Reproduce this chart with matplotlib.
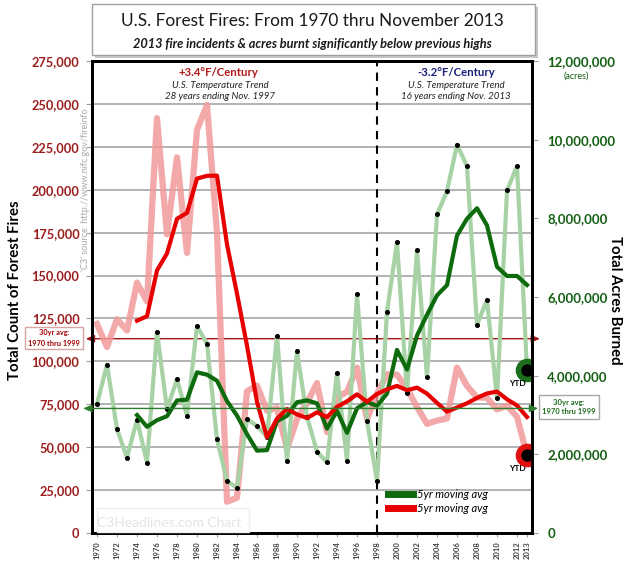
import matplotlib
matplotlib.use("Agg")
import matplotlib.pyplot as plt
from matplotlib.patches import FancyBboxPatch, Rectangle
from matplotlib.ticker import FuncFormatter

plt.rcParams['font.family'] = ['Lato', 'DejaVu Sans']

# ---- data (NIFC style yearly totals) ----
years = list(range(1970, 2014))
fires = [121736, 108398, 124554, 117957, 145868, 134872, 241699, 173998, 218842, 163196,
         234892, 249370, 174755, 18229, 20493, 82591, 85907, 71300, 72750, 48949,
         66481, 75754, 87394, 58810, 79107, 82234, 96363, 66196, 81043, 92487,
         92250, 84079, 73457, 63629, 65461, 66753, 96385, 85705, 78979, 78792,
         71971, 74126, 67774, 45400]
acres = [3278565, 4278472, 2641166, 1915273, 2879095, 1791327, 5109926, 3152644, 3910913, 2986826,
         5260825, 4814206, 2382036, 1323666, 1148409, 2896147, 2719162, 2447296, 5009290, 1827310,
         4621621, 2953578, 2069929, 1797574, 4073579, 1840546, 6065998, 2856959, 1329704, 5626093,
         7393493, 3570911, 7184712, 3960842, 8097880, 8689389, 9873745, 9328045, 5292468, 5921786,
         3422724, 8711367, 9326238, 4150000]

ma_years = list(range(1974, 2014))
fires_5yr = [123700, 126300, 153000, 162900, 183100, 186500, 206500, 208100, 208200, 168100,
             139500, 109100, 76400, 55700, 66600, 72300, 69100, 67000, 70300, 67500,
             73500, 76700, 80800, 76500, 81000, 83700, 85700, 83200, 84700, 81200,
             75800, 70700, 73100, 75600, 78700, 81300, 82400, 77900, 74300, 67600]
acres_5yr = [2998500, 2701100, 2867400, 2969700, 3368800, 3390300, 4084200, 4025100, 3871000, 3353500,
             2985800, 2512900, 2093900, 2106900, 2844100, 2979800, 3324900, 3371800, 3296300, 2654000,
             3103300, 2547000, 3169500, 3326900, 3233400, 3543900, 4654400, 4155400, 5021000, 5547200,
             6041600, 6300700, 7561300, 7990000, 8256300, 7821100, 6767800, 6535300, 6534900, 6306400]

fires_30yr_avg = 113200
acres_30yr_avg = 3167000

xtick_years = list(range(1970, 2013, 2)) + [2013]

W, H = 630, 567


def fx(px):
    return px / W


def fy(py):
    return 1 - py / H


fig = plt.figure(figsize=(6.3, 5.67), dpi=100)
ax = fig.add_axes([fx(92), fy(533), 440 / W, 472 / H])
ax2 = ax.twinx()
ax.set_xlim(1969.5, 2013.5)
ax.set_ylim(0, 275000)
ax2.set_ylim(0, 12e6)

# all series live on ax so their stacking order can be mixed; acres use ax2's scale
ax.plot(years, fires, color='#F29A9A', lw=4.5, alpha=0.85, zorder=2)
ax.plot(years, acres, transform=ax2.transData, color='#A6D2A6', lw=3, zorder=3,
        marker='o', ms=2.6, mfc='black', mec='black')
green_ma, = ax.plot(ma_years, acres_5yr, transform=ax2.transData, color='#0D6A0D', lw=3, zorder=4)
red_ma, = ax.plot(ma_years, fires_5yr, color='#E60000', lw=3, zorder=5)

# YTD markers
ax.plot([years[-1]], [fires[-1]], 'o', ms=13, mfc='black', mec='#E01010', mew=4, zorder=6)
ax.plot([years[-1]], [acres[-1]], 'o', transform=ax2.transData, ms=13, mfc='black',
        mec='#1C6E1C', mew=4, zorder=6)
ax.annotate('YTD', xy=(years[-1], fires[-1]), xytext=(-7, -10), textcoords='offset points',
            ha='center', va='center', fontsize=6, fontweight='bold')
ax2.annotate('YTD', xy=(years[-1], acres[-1]), xytext=(-7, -10), textcoords='offset points',
             ha='center', va='center', fontsize=6, fontweight='bold')

ax.axvline(1998, color='black', lw=1.5, ls=(0, (4, 3)), zorder=1.5)

# 30 yr averages with arrows out to the boxes
ax.annotate('', xy=(-0.014, fires_30yr_avg), xytext=(1.018, fires_30yr_avg),
            xycoords=('axes fraction', 'data'), textcoords=('axes fraction', 'data'),
            arrowprops=dict(arrowstyle='<|-|>,head_length=0.5,head_width=0.22', color='#A01414',
                            lw=1, shrinkA=0, shrinkB=0), annotation_clip=False, zorder=1.8)
ax2.annotate('', xy=(-0.02, acres_30yr_avg), xytext=(1.014, acres_30yr_avg),
             xycoords=('axes fraction', 'data'), textcoords=('axes fraction', 'data'),
             arrowprops=dict(arrowstyle='<|-|>,head_length=0.5,head_width=0.22', color='#2E7D2E',
                             lw=1, shrinkA=0, shrinkB=0), annotation_clip=False)

fig.text(fx(54), fy(338), '30yr avg:\n1970 thru 1999', ha='center', va='center', fontsize=5.3,
         color='#A00000', fontweight='bold', linespacing=1.5,
         bbox=dict(boxstyle='square,pad=0.35', fc='white', ec='#D9A3A3', lw=1))
fig.text(fx(569), fy(407), '30yr avg:\n1970 thru 1999', ha='center', va='center', fontsize=5.5,
         color='#1E6B1E', fontweight='bold', linespacing=1.5,
         bbox=dict(boxstyle='square,pad=0.4', fc='white', ec='#A8A8A8', lw=1))

# axes styling
ax.set_yticks(range(0, 275001, 25000))
ax2.set_yticks(range(0, 12000001, 2000000))
ax.yaxis.set_major_formatter(FuncFormatter(lambda v, p: f'{int(v):,}'))
ax2.yaxis.set_major_formatter(FuncFormatter(lambda v, p: f'{int(v):,}'))
ax.tick_params(axis='y', labelsize=9.2, labelcolor='#9C1C1C', length=4, color='#A0A0A0', pad=5)
ax2.tick_params(axis='y', labelsize=9.5, labelcolor='#135E13', length=4, color='#A0A0A0', pad=7)
for lab in ax.get_yticklabels() + ax2.get_yticklabels():
    lab.set_fontweight('bold')
ax.set_xticks(xtick_years)
ax.set_xticklabels([str(y) for y in xtick_years], rotation=90, fontsize=5.5,
                   fontweight='bold', color='#404040')
ax.tick_params(axis='x', length=3, color='#A0A0A0', pad=3)
ax.grid(axis='y', color='#A6A6A6', lw=1.2)
ax.set_axisbelow(True)
for a in (ax, ax2):
    for s in a.spines.values():
        s.set_linewidth(2)
        s.set_color('black')

leg = ax.legend([green_ma, red_ma], ['5yr moving avg', '5yr moving avg'], loc='upper left',
                bbox_to_anchor=(0.672, 0.094), frameon=False, prop=dict(style='italic', size=8),
                handlelength=2.25, handletextpad=0.35, labelspacing=0.3, borderpad=0,
                borderaxespad=0)
for ln in leg.get_lines():
    ln.set_linewidth(5)

# temperature trend notes
fig.text(fx(218), fy(73), '+3.4°F/Century', ha='center', va='center', fontsize=8.2,
         fontweight='bold', color='#B51A1A')
fig.text(fx(220), fy(86), 'U.S. Temperature Trend', ha='center', va='center', fontsize=7,
         style='italic', color='#222222')
fig.text(fx(220), fy(97), '28 years ending Nov. 1997', ha='center', va='center', fontsize=7,
         style='italic', color='#222222')
fig.text(fx(456), fy(73), '-3.2°F/Century', ha='center', va='center', fontsize=8.2,
         fontweight='bold', color='#1B1F7A')
fig.text(fx(456), fy(86), 'U.S. Temperature Trend', ha='center', va='center', fontsize=7,
         style='italic', color='#222222')
fig.text(fx(456), fy(97), '16 years ending Nov. 2013', ha='center', va='center', fontsize=7,
         style='italic', color='#222222')

# title box with a drop shadow
shadow = FancyBboxPatch((fx(95), fy(58)), 443 / W, 51 / H, boxstyle='square,pad=0',
                        transform=fig.transFigure, fc='#C8C8C8', ec='none')
box = FancyBboxPatch((fx(92), fy(55)), 443 / W, 51 / H, boxstyle='square,pad=0',
                     transform=fig.transFigure, fc='white', ec='#A0A0A0', lw=1)
fig.patches.extend([shadow, box])
fig.text(fx(312), fy(21), 'U.S. Forest Fires: From 1970 thru November 2013', ha='center',
         va='center', fontsize=12.4, color='#1A1A1A')
fig.text(fx(312), fy(44), '2013 fire incidents & acres burnt significantly below previous highs',
         ha='center', va='center', fontsize=9.2, fontweight='bold', style='italic', color='#1A1A1A')

fig.text(fx(15), fy(290), 'Total Count of Forest Fires', rotation=90, ha='center', va='center',
         fontsize=10.8, fontweight='bold')
fig.text(fx(615), fy(300), 'Total Acres Burned', rotation=270, ha='center', va='center',
         fontsize=10.8, fontweight='bold')
fig.text(fx(576), fy(76), '(acres)', ha='center', va='center', fontsize=6.5, color='#135E13')

fig.text(fx(86), fy(190), "'C3' source: http://www.nifc.gov/fireinfo", rotation=90,
         ha='center', va='center', fontsize=6.5, color='#A8A8A8')
fig.patches.append(Rectangle((fx(97), fy(532)), 152 / W, 24 / H, transform=fig.transFigure,
                             fc='none', ec='#EEEEEE', lw=1))
fig.text(fx(169), fy(523), 'C3Headlines.com Chart', ha='center', va='center', fontsize=10,
         color='#E4E4E4')

fig.savefig('out.png', dpi=100)
